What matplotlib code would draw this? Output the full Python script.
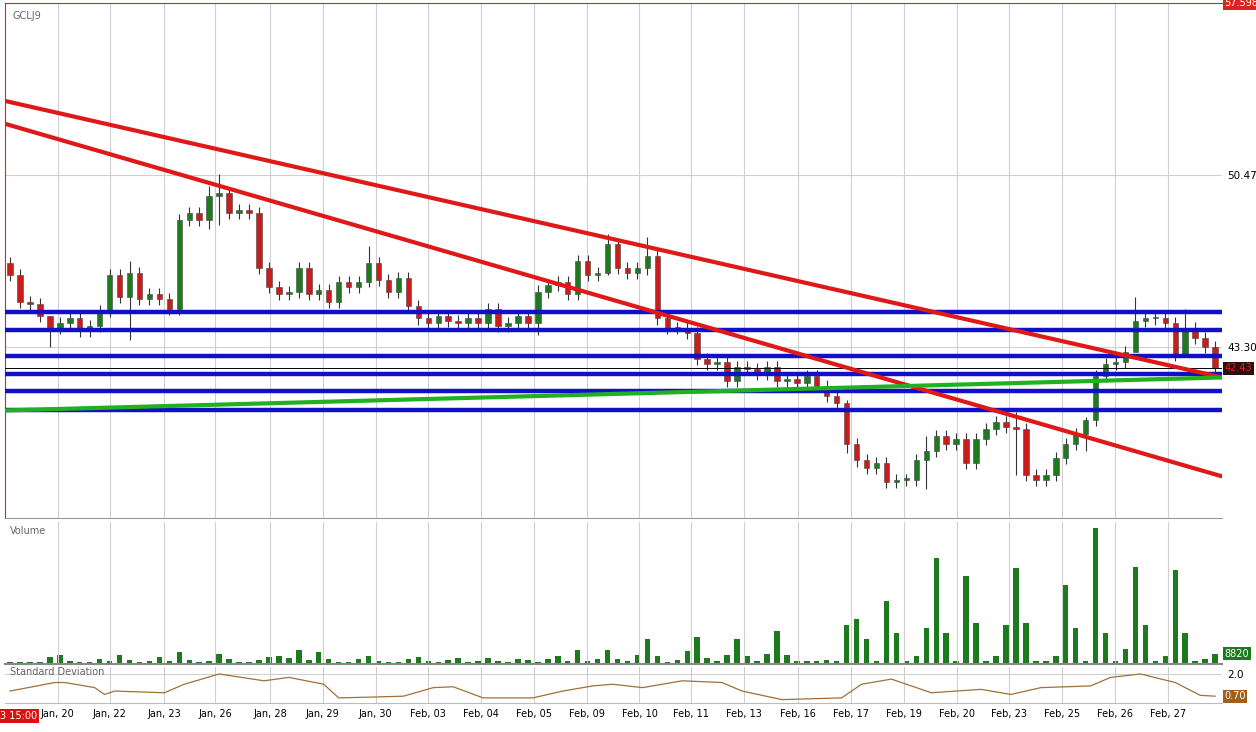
import matplotlib.pyplot as plt
import numpy as np

# closes, one candle per slot (open = previous close)
closes = [46.3, 45.2, 45.1, 44.6, 44.1, 44.3, 44.5, 44.0, 44.2, 44.8,
          46.3, 45.4, 46.4, 45.3, 45.5, 45.3, 44.9, 48.6, 48.9, 48.6,
          49.6, 49.7, 48.9, 49.0, 48.9, 46.6, 45.8, 45.5, 45.6, 46.6,
          45.5, 45.7, 45.2, 46.0, 45.8, 46.0, 46.8, 46.1, 45.6, 46.2,
          45.0, 44.5, 44.3, 44.6, 44.4, 44.3, 44.5, 44.3, 44.9, 44.2,
          44.3, 44.6, 44.3, 45.6, 45.9, 46.0, 45.5, 46.9, 46.3, 46.4,
          47.6, 46.6, 46.4, 46.6, 47.1, 44.5, 44.1, 44.1, 43.9, 42.8,
          42.6, 42.7, 41.9, 42.5, 42.4, 42.2, 42.5, 41.9, 42.0, 41.8,
          42.1, 41.7, 41.3, 41.0, 39.3, 38.6, 38.3, 38.5, 37.7, 37.8,
          37.8, 38.6, 39.0, 39.6, 39.3, 39.5, 38.5, 39.5, 39.9, 40.2,
          40.0, 39.9, 38.0, 37.8, 38.0, 38.7, 39.3, 39.7, 40.3, 42.1,
          42.6, 42.7, 43.1, 44.4, 44.5, 44.5, 44.3, 43.0, 44.1, 43.7,
          43.3, 42.43]
first_open = 46.8
# noticeably long wicks: index -> (high, low)
long_wicks = {4: (44.6, 43.3), 12: (46.9, 43.6), 20: (50.0, 48.2), 21: (50.5, 48.4),
              36: (47.5, 45.8), 53: (45.9, 43.8), 60: (48.0, 46.3), 64: (47.9, 46.3),
              84: (41.1, 38.9), 92: (39.6, 37.4), 101: (40.6, 38.0), 108: (40.4, 39.0),
              113: (45.4, 44.0), 118: (44.9, 42.9)}
volume_k = [2, 2, 2, 2, 7, 9, 3, 2, 2, 5,
            3, 9, 4, 2, 3, 7, 3, 12, 4, 2,
            3, 10, 5, 2, 2, 4, 7, 8, 6, 14,
            4, 12, 5, 2, 2, 5, 8, 3, 2, 2,
            5, 7, 3, 2, 4, 6, 2, 3, 6, 3,
            2, 5, 4, 2, 5, 8, 3, 14, 3, 5,
            14, 5, 3, 9, 25, 8, 2, 4, 13, 27,
            6, 3, 9, 25, 8, 3, 10, 32, 9, 3,
            3, 3, 4, 3, 38, 44, 25, 3, 62, 30,
            3, 8, 35, 104, 30, 3, 87, 40, 3, 8,
            38, 95, 40, 3, 3, 8, 78, 35, 3, 134,
            30, 3, 15, 96, 38, 3, 8, 93, 30, 3,
            5, 10]
std_idx = [0, 4.5, 5.5, 8.5, 9.5, 10.5, 15.5, 17.5, 21, 25.5, 28, 31.5, 33, 36.5, 39.5,
           42.5, 44.5, 47.5, 52.5, 55.5, 58.5, 60.5, 63.5, 67.5, 71.5, 73.5, 77.5, 83.5,
           85.5, 88.5, 92.5, 97.5, 100.5, 103.5, 108.5, 110.5, 113.5, 117, 119.5, 121]
std_vals = [1.0, 1.5, 1.5, 1.2, 0.8, 1.0, 0.9, 1.4, 2.0, 1.6, 1.8, 1.4, 0.6, 0.65, 0.7,
            1.2, 1.25, 0.6, 0.6, 1.0, 1.3, 1.4, 1.2, 1.6, 1.5, 1.0, 0.5, 0.6,
            1.4, 1.7, 0.9, 1.1, 0.8, 1.2, 1.3, 1.8, 2.0, 1.5, 0.75, 0.7]
date_labels = ["Jan, 20", "Jan, 22", "Jan, 23", "Jan, 26", "Jan, 28", "Jan, 29", "Jan, 30",
               "Feb, 03", "Feb, 04", "Feb, 05", "Feb, 09", "Feb, 10", "Feb, 11", "Feb, 13",
               "Feb, 16", "Feb, 17", "Feb, 19", "Feb, 20", "Feb, 23", "Feb, 25", "Feb, 26",
               "Feb, 27"]
date_pos = [4.8, 10, 15.5, 20.6, 26.1, 31.4, 36.7, 42, 47.3, 52.6, 57.9, 63.2, 68.4,
            73.7, 79.1, 84.4, 89.8, 95.1, 100.3, 105.6, 110.9, 116.3]
support_levels = [44.79, 44.04, 42.96, 42.21, 41.47, 40.68]
red_lines = [(53.54, 42.05), (52.59, 37.94)]
green_line = (40.68, 42.05)

XL = (-0.5, 121.7)
fig = plt.figure(figsize=(12.56, 7.32), dpi=100)
ax = fig.add_axes([0.004, 0.292, 0.969, 0.7036])
axv = fig.add_axes([0.004, 0.093, 0.969, 0.194])
axs = fig.add_axes([0.004, 0.0396, 0.969, 0.049])

for a in (ax, axv, axs):
    a.set_xlim(*XL)
    a.set_xticks(date_pos)
    a.grid(True, axis="x", color="#d0d0d0", lw=0.8)
    a.tick_params(length=0, labelsize=7.5, colors="black")
    a.yaxis.tick_right()
    for s in a.spines.values():
        s.set_visible(False)
    a.set_xticklabels([])

# price panel
ax.set_ylim(36.2, 57.6)
ax.set_yticks([50.47, 43.30])
ax.set_yticklabels(["50.47", "43.30"])
ax.grid(True, axis="y", color="#d0d0d0", lw=0.8)
ax.spines["top"].set_visible(True)
ax.spines["top"].set_color("#dd2222")
ax.spines["left"].set_visible(True)
ax.spines["left"].set_color("#dd2222")
ax.spines["bottom"].set_visible(True)
ax.spines["bottom"].set_color("#999999")

opens = [first_open] + closes[:-1]
for i, (o, c) in enumerate(zip(opens, closes)):
    hi, lo = long_wicks.get(i, (max(o, c) + 0.25, min(o, c) - 0.25))
    col = "#1e7a1e" if c >= o else "#cc1b1b"
    ax.vlines(i, lo, hi, color="#333333", lw=0.8, zorder=2)
    ax.bar(i, max(abs(c - o), 0.06), bottom=min(o, c), width=0.55, color=col,
           edgecolor="#444444", lw=0.4, zorder=3)

for lvl in support_levels:
    ax.axhline(lvl, color="#1010c8", lw=3.2, zorder=4)
for y0, y1 in red_lines:
    ax.plot(XL, [y0, y1], color="#e01818", lw=3, zorder=5)
ax.plot(XL, green_line, color="#20b020", lw=3, zorder=5)
ax.axhline(closes[-1], color="black", lw=0.7, zorder=4)
ax.text(0.006, 0.985, "GCLJ9", transform=ax.transAxes, fontsize=7, color="#666666", va="top")

ax.text(1.002, 1.0, "57.598", transform=ax.transAxes, fontsize=7, color="white", va="center",
        bbox=dict(boxstyle="square,pad=0.15", fc="#dd2222", ec="none"))
ax.text(1.002, (closes[-1] - 36.2) / (57.6 - 36.2), f"{closes[-1]:.2f}", transform=ax.transAxes,
        fontsize=7, color="#dd2222", va="center",
        bbox=dict(boxstyle="square,pad=0.15", fc="#2a1010", ec="none"))

# volume panel
axv.bar(range(len(volume_k)), [v * 880 for v in volume_k], width=0.55, color="#1e7a1e")
axv.set_ylim(0, 140 * 880)
axv.set_yticks([])
axv.spines["bottom"].set_visible(True)
axv.spines["bottom"].set_color("#888888")
axv.spines["bottom"].set_linewidth(1.5)
axv.text(0.004, 0.97, "Volume", transform=axv.transAxes, fontsize=7, color="#666666", va="top")
axv.text(1.002, volume_k[-1] * 880 / (140 * 880), f"{volume_k[-1] * 882}", transform=axv.transAxes,
         fontsize=7, color="white", va="center",
         bbox=dict(boxstyle="square,pad=0.15", fc="#1e7a1e", ec="none"))

# standard deviation panel
axs.plot(std_idx, std_vals, color="#a0703a", lw=0.9)
axs.set_ylim(0.3, 2.4)
axs.set_yticks([2.0])
axs.set_yticklabels(["2.0"])
axs.grid(True, axis="y", color="#d0d0d0", lw=0.8)
axs.spines["bottom"].set_visible(True)
axs.spines["bottom"].set_color("#bbbbbb")
axs.text(0.004, 1.0, "Standard Deviation", transform=axs.transAxes, fontsize=7, color="#666666",
         va="top")
axs.text(1.002, (std_vals[-1] - 0.3) / 2.1, f"{std_vals[-1]:.2f}", transform=axs.transAxes,
         fontsize=7, color="white", va="center",
         bbox=dict(boxstyle="square,pad=0.15", fc="#a0601a", ec="none"))
axs.set_xticklabels(date_labels)
axs.tick_params(axis="x", labelsize=7, pad=4)
axs.text(-0.004, -0.35, "3 15:00", transform=axs.transAxes, fontsize=7, color="white", va="center",
         bbox=dict(boxstyle="square,pad=0.2", fc="#dd1111", ec="none"))

fig.savefig("out.png", dpi=100)
